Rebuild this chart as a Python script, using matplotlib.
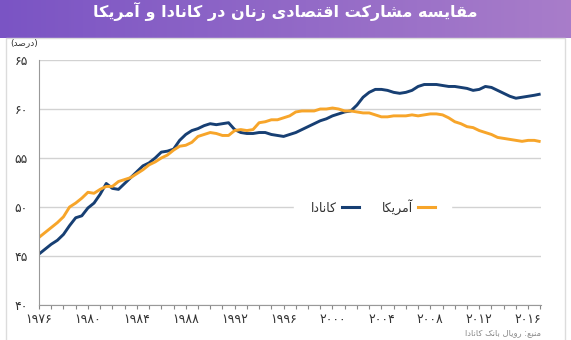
import numpy as np
import matplotlib
matplotlib.use("Agg")
import matplotlib.pyplot as plt
from matplotlib.lines import Line2D

# ----- data: women's labour force participation rate (%) ----- #
years = np.append(np.arange(1976, 2016.6, 0.5), 2016.9)

canada = [45.2, 45.7, 46.2, 46.6, 47.2, 48.1, 48.9, 49.1, 49.9, 50.4,
          51.3, 52.4, 51.9, 51.8, 52.4, 53.0, 53.6, 54.2, 54.5, 55.0,
          55.6, 55.7, 55.9, 56.8, 57.4, 57.8, 58.0, 58.3, 58.5, 58.4,
          58.5, 58.6, 57.9, 57.6, 57.5, 57.5, 57.6, 57.6, 57.4, 57.3,
          57.2, 57.4, 57.6, 57.9, 58.2, 58.5, 58.8, 59.0, 59.3, 59.5,
          59.7, 59.8, 60.4, 61.2, 61.7, 62.0, 62.0, 61.9, 61.7, 61.6,
          61.7, 61.9, 62.3, 62.5, 62.5, 62.5, 62.4, 62.3, 62.3, 62.2,
          62.1, 61.9, 62.0, 62.3, 62.2, 61.9, 61.6, 61.3, 61.1, 61.2,
          61.3, 61.4, 61.5]

usa = [46.9, 47.4, 47.9, 48.4, 49.0, 50.0, 50.4, 50.9, 51.5, 51.4,
       51.8, 52.1, 52.1, 52.6, 52.8, 53.0, 53.4, 53.8, 54.3, 54.6,
       55.0, 55.3, 55.8, 56.2, 56.3, 56.6, 57.2, 57.4, 57.6, 57.5,
       57.3, 57.3, 57.8, 57.9, 57.8, 57.9, 58.6, 58.7, 58.9, 58.9,
       59.1, 59.3, 59.7, 59.8, 59.8, 59.8, 60.0, 60.0, 60.1, 60.0,
       59.8, 59.8, 59.7, 59.6, 59.6, 59.4, 59.2, 59.2, 59.3, 59.3,
       59.3, 59.4, 59.3, 59.4, 59.5, 59.5, 59.4, 59.1, 58.7, 58.5,
       58.2, 58.1, 57.8, 57.6, 57.4, 57.1, 57.0, 56.9, 56.8, 56.7,
       56.8, 56.8, 56.7]

y_ticks = [40, 45, 50, 55, 60, 65]
x_label_years = list(range(1976, 2017, 4))

title = "مقایسه مشارکت اقتصادی زنان در کانادا و آمریکا"
unit = "(درصد)"
source = "منبع: رویال بانک کانادا"
names = ["کانادا", "آمریکا"]

# ----- simple Persian shaping (matplotlib draws glyphs left to right, unjoined) ----- #
FORMS = {
    'ا': ('\uFE8D', '\uFE8E', None, None),
    'آ': ('\uFE81', '\uFE82', None, None),
    'د': ('\uFEA9', '\uFEAA', None, None),
    'ر': ('\uFEAD', '\uFEAE', None, None),
    'ز': ('\uFEAF', '\uFEB0', None, None),
    'و': ('\uFEED', '\uFEEE', None, None),
    'ب': ('\uFE8F', '\uFE90', '\uFE91', '\uFE92'),
    'ت': ('\uFE95', '\uFE96', '\uFE97', '\uFE98'),
    'س': ('\uFEB1', '\uFEB2', '\uFEB3', '\uFEB4'),
    'ش': ('\uFEB5', '\uFEB6', '\uFEB7', '\uFEB8'),
    'ص': ('\uFEB9', '\uFEBA', '\uFEBB', '\uFEBC'),
    'ع': ('\uFEC9', '\uFECA', '\uFECB', '\uFECC'),
    'ق': ('\uFED5', '\uFED6', '\uFED7', '\uFED8'),
    'ل': ('\uFEDD', '\uFEDE', '\uFEDF', '\uFEE0'),
    'م': ('\uFEE1', '\uFEE2', '\uFEE3', '\uFEE4'),
    'ن': ('\uFEE5', '\uFEE6', '\uFEE7', '\uFEE8'),
    'ه': ('\uFEE9', '\uFEEA', '\uFEEB', '\uFEEC'),
    'ک': ('\uFB8E', '\uFB8F', '\uFB90', '\uFB91'),
    'ی': ('\uFBFC', '\uFBFD', '\uFBFE', '\uFBFF'),
}
MIRROR = {'(': ')', ')': '('}


def fa(text):
    out = []
    for i, ch in enumerate(text):
        if ch not in FORMS:
            out.append(MIRROR.get(ch, ch))
            continue
        iso, fin, ini, med = FORMS[ch]
        prev = text[i - 1] if i > 0 else ''
        nxt = text[i + 1] if i + 1 < len(text) else ''
        join_prev = prev in FORMS and FORMS[prev][2] is not None
        join_next = ini is not None and nxt in FORMS
        if join_prev and join_next:
            out.append(med)
        elif join_prev:
            out.append(fin)
        elif join_next:
            out.append(ini)
        else:
            out.append(iso)
    return ''.join(reversed(out))


def fa_num(n):
    return str(n).translate(str.maketrans("0123456789", "۰۱۲۳۴۵۶۷۸۹"))


W, H = 571, 340
fig = plt.figure(figsize=(W / 100, H / 100), dpi=100)
fig.patch.set_facecolor("white")

# purple header band
band = fig.add_axes([0, 1 - 38 / H, 1, 38 / H])
grad = np.linspace(0, 1, 256)[None, :]
c0 = np.array([0.48, 0.33, 0.77])
c1 = np.array([0.66, 0.49, 0.79])
img = c0[None, None, :] * (1 - grad[..., None]) + c1[None, None, :] * grad[..., None]
band.imshow(img, aspect="auto", extent=[0, 1, 0, 1])
band.set_axis_off()
fig.text(0.5, 1 - 11 / H, fa(title), ha="center", va="center", color="white",
         fontsize=11.5, fontweight="bold", family="DejaVu Sans")

# light frame around the white card
fig.add_artist(plt.Rectangle((6 / W, -0.01), (W - 12) / W, 1 - 38 / H + 0.01,
                             transform=fig.transFigure, fill=False,
                             edgecolor="#dcdcdc", lw=1))

ax = fig.add_axes([39 / W, 35 / H, 502 / W, 245 / H])
ax.plot(years, canada, color="#173f73", lw=2.1, label=names[0])
ax.plot(years, usa, color="#f7a52a", lw=2.1, label=names[1])

ax.set_xlim(1976, 2017.05)
ax.set_ylim(40, 65)
ax.set_yticks(y_ticks)
ax.set_yticklabels([fa_num(v) for v in y_ticks])
ax.set_xticks(range(1976, 2018), minor=False)
ax.set_xticklabels([fa_num(y) if y in x_label_years else "" for y in range(1976, 2018)])
ax.tick_params(axis="x", length=3, width=0.8, color="#888888", pad=3,
               labelsize=9, labelcolor="#333333")
ax.tick_params(axis="y", length=0, pad=8, labelsize=9, labelcolor="#333333")

ax.grid(axis="y", color="#d2d2d2", lw=1)
ax.set_axisbelow(True)
for s in ["top", "right"]:
    ax.spines[s].set_visible(False)
ax.spines["left"].set_color("#999999")
ax.spines["bottom"].set_color("#999999")

handles = [Line2D([], [], color="#173f73", lw=2.2), Line2D([], [], color="#f7a52a", lw=2.2)]
leg = ax.legend(handles, [fa(n) for n in names], loc="center", bbox_to_anchor=(0.665, 0.4),
                ncol=2, markerfirst=False, frameon=True, fancybox=False,
                handlelength=1.4, handletextpad=0.4, columnspacing=1.8,
                borderpad=1.3, prop={"family": "DejaVu Sans", "size": 9})
leg.get_frame().set_facecolor("white")
leg.get_frame().set_edgecolor("white")
leg.get_frame().set_alpha(1)
for t in leg.get_texts():
    t.set_color("#333333")

fig.text(10 / W, 1 - 43 / H, fa(unit), ha="left", va="center", fontsize=6.5,
         color="#333333", family="DejaVu Sans")
fig.text(541 / W, 1 - 333 / H, fa(source), ha="right", va="center", fontsize=6,
         color="#888888", family="DejaVu Sans")

fig.savefig("out.png", dpi=100)
